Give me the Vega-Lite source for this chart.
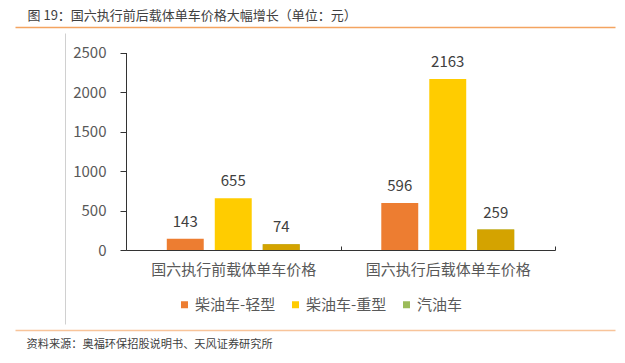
{
  "$schema": "https://vega.github.io/schema/vega-lite/v6.json",
  "width": 600,
  "height": 303,
  "autosize": {"type": "none"},
  "padding": {"left": 15, "top": 27, "right": 10, "bottom": 33},
  "config": {"view": {"stroke": null}, "font": "Noto Sans CJK SC"},
  "layer": [
    {
      "data": {
        "values": [
          {"group": "国六执行前载体单车价格", "series": "柴油车-轻型", "price": 143},
          {"group": "国六执行前载体单车价格", "series": "柴油车-重型", "price": 655},
          {"group": "国六执行前载体单车价格", "series": "汽油车", "price": 74},
          {"group": "国六执行后载体单车价格", "series": "柴油车-轻型", "price": 596},
          {"group": "国六执行后载体单车价格", "series": "柴油车-重型", "price": 2163},
          {"group": "国六执行后载体单车价格", "series": "汽油车", "price": 259}
        ]
      },
      "encoding": {
        "x": {
          "field": "group",
          "type": "nominal",
          "sort": null,
          "scale": {"range": [111, 540], "paddingInner": 0, "paddingOuter": 0},
          "axis": {
            "orient": "bottom",
            "offset": -80,
            "title": null,
            "labelAngle": 0,
            "labelFontSize": 15,
            "labelColor": "#595959",
            "labelPadding": 16,
            "domainColor": "#333333",
            "tickColor": "#333333",
            "tickSize": -4,
            "tickBand": "extent",
            "grid": false
          }
        },
        "xOffset": {
          "field": "series",
          "type": "nominal",
          "scale": {"domain": ["柴油车-轻型", "柴油车-重型", "汽油车"], "paddingInner": 0.23, "paddingOuter": 0.85}
        },
        "y": {
          "field": "price",
          "type": "quantitative",
          "scale": {"domain": [0, 2500], "range": [223, 25.5], "nice": false},
          "axis": {
            "orient": "left",
            "offset": -111,
            "values": [0, 500, 1000, 1500, 2000, 2500],
            "format": "d",
            "title": null,
            "grid": false,
            "labelFontSize": 15,
            "labelColor": "#595959",
            "labelPadding": 14,
            "tickSize": 6,
            "tickColor": "#333333",
            "domainColor": "#333333"
          }
        }
      },
      "layer": [
        {
          "mark": {"type": "bar"},
          "encoding": {
            "color": {
              "field": "series",
              "type": "nominal",
              "scale": {"domain": ["柴油车-轻型", "柴油车-重型", "汽油车"], "range": ["#ED7D31", "#FFCC00", "#9BBB59"]},
              "legend": {
                "orient": "none",
                "legendX": 162,
                "legendY": 270,
                "direction": "horizontal",
                "title": null,
                "symbolType": "square",
                "symbolSize": 49,
                "symbolStrokeWidth": 0,
                "labelFontSize": 15,
                "labelColor": "#595959",
                "labelOffset": 3,
                "columnPadding": 12
              }
            }
          }
        },
        {
          "transform": [{"filter": "datum.series === '汽油车'"}],
          "mark": {"type": "bar", "color": "#D4A300"}
        },
        {
          "mark": {"type": "text", "baseline": "bottom", "dy": -9, "fontSize": 15, "color": "#404040"},
          "encoding": {"text": {"field": "price", "type": "quantitative"}}
        }
      ]
    },
    {
      "data": {"values": [{"d": 0}, {"d": 1}]},
      "mark": {"type": "point", "opacity": 0},
      "encoding": {
        "x": {
          "field": "d",
          "type": "quantitative",
          "scale": {"domain": [0, 1], "range": [0, 600], "nice": false},
          "axis": {
            "orient": "top",
            "grid": false,
            "ticks": false,
            "labels": false,
            "domainColor": "#F4A460",
            "domainWidth": 1.5,
            "title": "图 19：国六执行前后载体单车价格大幅增长（单位：元）",
            "titleFontSize": 13,
            "titleFontWeight": "normal",
            "titleColor": "#404040",
            "titleAlign": "left",
            "titleBaseline": "middle",
            "titleX": 12,
            "titleY": -11.5
          }
        }
      }
    },
    {
      "data": {"values": [{"d": 0}, {"d": 1}]},
      "mark": {"type": "point", "opacity": 0},
      "encoding": {
        "x": {
          "field": "d",
          "type": "quantitative",
          "scale": {"domain": [0, 1], "range": [0, 600], "nice": false},
          "axis": {
            "orient": "bottom",
            "grid": false,
            "ticks": false,
            "labels": false,
            "domainColor": "#F8C49A",
            "domainWidth": 1.5,
            "title": "资料来源：奥福环保招股说明书、天风证券研究所",
            "titleFontSize": 11.2,
            "titleFontWeight": "normal",
            "titleColor": "#404040",
            "titleAlign": "left",
            "titleBaseline": "middle",
            "titleX": 11,
            "titleY": 14
          }
        }
      }
    },
    {
      "data": {"values": [{"d": 0}, {"d": 1}]},
      "mark": {"type": "point", "opacity": 0},
      "encoding": {
        "y": {
          "field": "d",
          "type": "quantitative",
          "scale": {"domain": [0, 1], "range": [297, 6], "nice": false},
          "axis": {
            "orient": "left",
            "offset": -50,
            "grid": false,
            "ticks": false,
            "labels": false,
            "title": null,
            "domainColor": "#D0D0D0",
            "domainWidth": 1
          }
        }
      }
    }
  ],
  "resolve": {
    "scale": {"x": "independent", "y": "independent"},
    "axis": {"x": "independent", "y": "independent"}
  }
}
